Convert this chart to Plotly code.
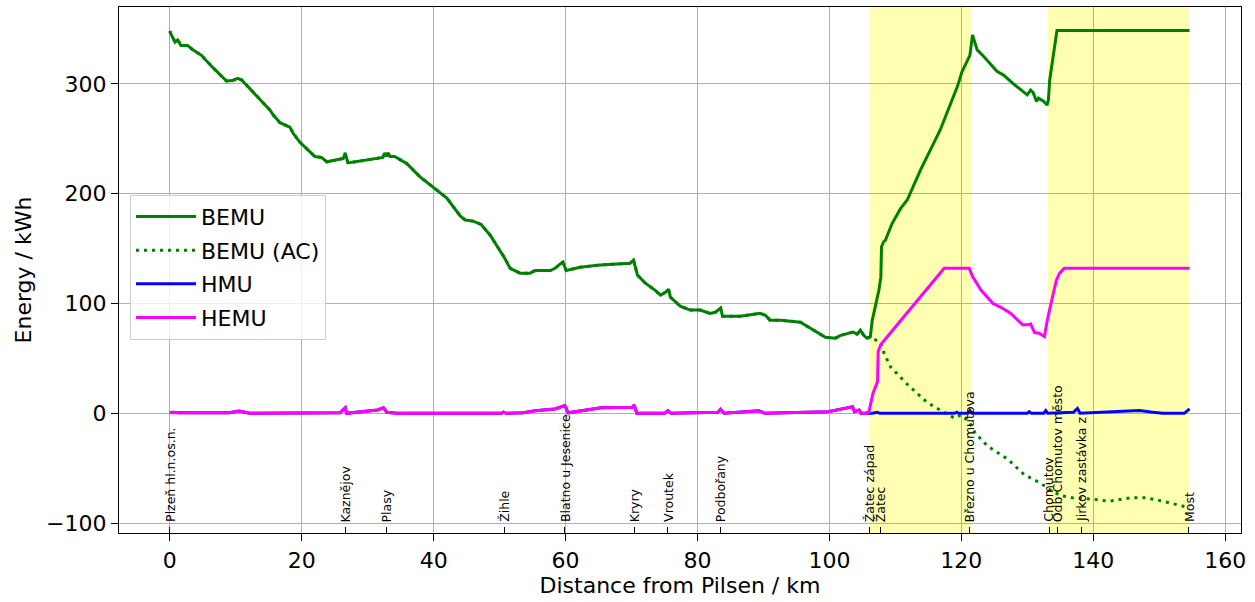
import plotly.graph_objects as go

# ---------------- data ----------------
bemu_km = [0, 0.2, 0.8, 1.2, 1.7, 2.7, 3.5, 4.8, 6.5, 8.6,
           9.5, 10.3, 10.9, 13, 15.2, 15.7, 16.7, 18.2, 18.7, 19.7,
           22, 23, 23.8, 26.3, 26.6, 27, 29.8, 32.3, 32.6, 32.9,
           33.1, 33.4, 34.1, 35.9, 37.9, 40.2, 42, 44, 44.8, 46,
           47.2, 48.6, 50, 50.8, 51.6, 53.1, 54.6, 55.4, 57.7, 58.4,
           59.2, 59.6, 60.1, 62.2, 65.2, 69.8, 70.3, 70.9, 72.1, 73.6,
           74.4, 75.1, 75.6, 75.9, 77.4, 78.9, 80.4, 81.9, 82.7, 83.5,
           83.8, 86.5, 89.5, 90.3, 91, 92.6, 95.6, 97.1, 99.4, 100.9,
           101.7, 103.6, 104.2, 104.7, 105.2, 105.7, 106.2, 106.5, 107, 107.5,
           107.8, 107.9, 108.2, 108.5, 109.5, 110.8, 111.8, 113.8, 116.8, 119.4,
           120.1, 120.9, 121.3, 121.7, 121.9, 122.4, 123.4, 125.4, 126.4, 127.9,
           130, 130.5, 130.9, 131.4, 131.7, 132.5, 133, 133.2, 133.4, 134.5,
           154.6]
bemu_kwh = [348, 345, 338, 340, 335, 335, 331, 326, 315, 302.6,
            303, 305, 303.5, 290, 276, 271.6, 264.6, 260.6, 255, 247,
            233.8, 233, 229, 232, 237, 228, 230.6, 233, 237, 234,
            237, 233.8, 233.8, 227.6, 215.5, 205, 196, 180, 176, 175,
            172, 162, 149, 141, 132, 127.6, 127.6, 130, 130, 132,
            136, 137.6, 130, 133, 135, 136.7, 139.5, 125.8, 118.5, 112,
            107.6, 110, 113, 105.7, 97.5, 94, 94, 91, 92, 95.7,
            88.4, 88.4, 91, 89.3, 84.8, 84.8, 83, 77.5, 69.3, 68.4,
            71, 74, 72, 75.7, 71, 68.4, 69.6, 84.8, 97, 112,
            124, 151.7, 156, 157.7, 172.8, 186.6, 194.2, 221.5, 258, 297.5,
            311, 321.8, 326, 344.6, 340, 331, 325, 311.5, 308, 300,
            290, 294.4, 292, 284, 287, 284, 280.7, 285.3, 303.5, 348.5,
            348.5]

# BEMU (AC): identical to BEMU up to 106.2 km, then this tail
bemu_ac_tail_km = [106.5, 107.7, 108.3, 109.3, 111.7, 114.8, 117.2, 119, 119.9, 121.2,
                   122.1, 124, 127.1, 129.5, 131.4, 132.6, 133.2, 135.1, 136.9, 139.4,
                   142.5, 145.6, 148, 150.5, 154.6]
bemu_ac_tail_kwh = [68, 65, 54.4, 42, 27, 10, 1.5, -4.5, -1.5, -7.5,
                    -18, -30, -42, -55.7, -61.7, -66, -69, -75, -77, -78,
                    -80, -77, -77, -80, -86]

hemu_km = [0, 0.5, 1.3, 9, 10.5, 12.1, 25.8, 26.6, 26.8, 31.5,
           32.4, 32.9, 34.4, 50.3, 50.6, 51, 53.6, 55.4, 58.4, 59.9,
           60.4, 65.4, 70.1, 70.4, 70.8, 75, 75.5, 76, 83.1, 83.5,
           84, 86.8, 89.3, 90.2, 99.8, 102.3, 103.5, 103.8, 104.5, 104.8,
           105.5, 106, 106.6, 107.3, 107.4, 107.8, 108.8, 117.4, 121.2, 121.7,
           123, 124.8, 126, 127.5, 129.3, 130.1, 130.5, 131.1, 131.8, 132.6,
           133, 133.6, 134.4, 134.9, 135.6, 154.6]
hemu_kwh = [0.5, 1, 0.5, 0.5, 2, 0, 0.5, 5, 0, 3,
            5, 1, 0, 0, 1, 0, 0.5, 2.4, 4, 7,
            0.5, 5, 5.4, 7.5, 0, 0, 2.4, 0, 1, 3.6,
            0, 1.5, 2.4, 0, 1.5, 4.5, 6, 1.5, 3, 0,
            0, 1.5, 18, 29, 56.5, 62.6, 70, 132, 132, 124.5,
            112, 100, 96.5, 91, 80.6, 80.6, 81.5, 73.5, 73, 70,
            83.7, 100, 121, 127.6, 132, 132]

# HMU: identical to HEMU up to 105.5 km, then this tail
hmu_tail_km = [106.5, 107.3, 107.6, 119, 119.3, 119.6, 121, 121.3, 121.6, 130,
               130.3, 130.6, 132.5, 132.8, 133.1, 137, 137.6, 138, 142, 147,
               149, 150.5, 153.8, 154.3, 154.6]
hmu_tail_kwh = [0, 1, 0, 0, 1, 0, 0, 2.5, 0, 0,
                1.5, 0, 0, 2.5, 0, 1, 4.5, 0, 1, 2.5,
                1, 0, 0, 2, 4]

station_names = ["Plzeň hl.n.os.n.", "Kaznějov", "Plasy", "Žihle", "Blatno u Jesenice",
                 "Kryry", "Vroutek", "Podbořany", "Žatec západ", "Žatec",
                 "Březno u Chomutova", "Chomutov", "Odb Chomutov město",
                 "Jirkov zastávka z", "Most"]
station_km = [0, 26.7, 32.9, 50.7, 59.9, 70.4, 75.5, 83.5, 106.1, 107.7,
              121.3, 133.3, 134.6, 138.2, 154.5]

charging_spans = [(106.1, 121.5), (133.1, 154.5)]

# ---------------- build ----------------
ac_km = [k for k in bemu_km if k <= 106.2] + bemu_ac_tail_km
ac_kwh = [v for k, v in zip(bemu_km, bemu_kwh) if k <= 106.2] + bemu_ac_tail_kwh
hmu_km = [k for k in hemu_km if k <= 105.5] + hmu_tail_km
hmu_kwh = [v for k, v in zip(hemu_km, hemu_kwh) if k <= 105.5] + hmu_tail_kwh

FONT = "DejaVu Sans"
FS = 22
fig = go.Figure()
fig.add_trace(go.Scatter(x=bemu_km, y=bemu_kwh, mode="lines", name="BEMU",
                         legendgroup="a", line=dict(color="green", width=3)))
fig.add_trace(go.Scatter(x=ac_km, y=ac_kwh, mode="lines", name="BEMU (AC)",
                         legendgroup="b", line=dict(color="green", width=3, dash="3px,5px")))
fig.add_trace(go.Scatter(x=hmu_km, y=hmu_kwh, mode="lines", name="HMU",
                         legendgroup="c", line=dict(color="blue", width=3)))
fig.add_trace(go.Scatter(x=hemu_km, y=hemu_kwh, mode="lines", name="HEMU",
                         legendgroup="d", line=dict(color="magenta", width=3)))

for x0, x1 in charging_spans:
    fig.add_shape(type="rect", xref="x", yref="y domain", x0=x0, x1=x1, y0=0, y1=1,
                  fillcolor="rgba(255,255,0,0.3)", line=dict(width=0), layer="below")

for name, km in zip(station_names, station_km):
    fig.add_annotation(x=km, y=-100, text=name, textangle=-90, showarrow=False,
                       xanchor="center", yanchor="bottom", yshift=-1,
                       font=dict(family=FONT, size=12.5, color="black"))

axis_common = dict(showgrid=True, gridcolor="#b0b0b0", gridwidth=1.2,
                   showline=True, linecolor="black", linewidth=1.3, mirror=True,
                   ticks="outside", ticklen=7, tickwidth=1.2, tickcolor="black",
                   zeroline=False, tickfont=dict(family=FONT, size=FS, color="black"))

fig.update_layout(
    width=1255, height=602,
    margin=dict(l=119, r=14, t=7, b=69),
    plot_bgcolor="white", paper_bgcolor="white",
    font=dict(family=FONT, size=FS, color="black"),
    showlegend=True,
    legend=dict(x=0.0098, y=0.643, xanchor="left", yanchor="top",
                bgcolor="rgba(255,255,255,0.8)", bordercolor="#cccccc", borderwidth=1,
                font=dict(family=FONT, size=FS, color="black"), tracegroupgap=2,
                itemwidth=60),
    xaxis=dict(range=[-7.7, 162.4], tick0=0, dtick=20,
               title=dict(text="Distance from Pilsen / km", standoff=4,
                          font=dict(family=FONT, size=FS)),
               minor=dict(tickmode="array", tickvals=station_km, ticks="inside",
                          ticklen=6, tickcolor="black", tickwidth=1, showgrid=False),
               **axis_common),
    yaxis=dict(range=[-109, 370], tick0=0, dtick=100,
               title=dict(text="Energy / kWh", standoff=8,
                          font=dict(family=FONT, size=FS)),
               **axis_common),
)

fig.write_html("out.html", config={"displayModeBar": False},
               post_script="document.body.style.margin='0px';")
